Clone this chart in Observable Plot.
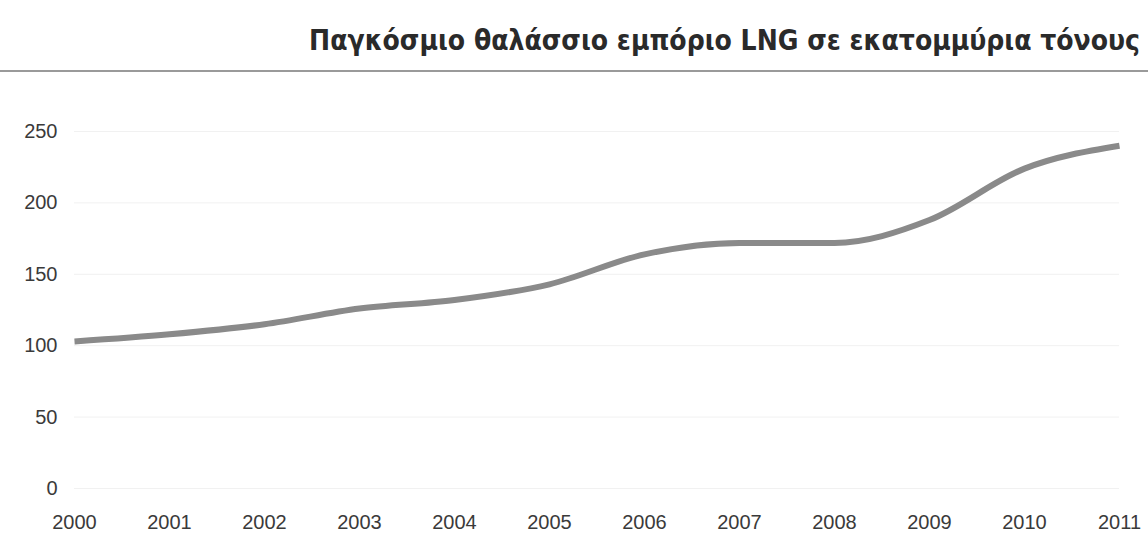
<!DOCTYPE html>
<html>
<head>
<meta charset="utf-8">
<script src="https://cdn.jsdelivr.net/npm/d3@7"></script>
<script src="https://cdn.jsdelivr.net/npm/@observablehq/plot@0.6"></script>
<style>
  html, body { margin: 0; padding: 0; background: #fff; }
  #wrap { width: 1148px; height: 539px; overflow: hidden; }
  #title {
    height: 72px; box-sizing: border-box;
    border-bottom: 2px solid #9a9a9a;
    text-align: right; padding-right: 8px;
    font-family: "DejaVu Sans Condensed", "DejaVu Sans", sans-serif;
    font-stretch: condensed;
    font-weight: bold; font-size: 28px; color: #2a2a2a;
    line-height: 28px; padding-top: 27px;
  }
  svg { display: block; }
</style>
</head>
<body>
<div id="wrap">
  <div id="title">Παγκόσμιο θαλάσσιο εμπόριο LNG σε εκατομμύρια τόνους</div>
  <div id="chart"></div>
</div>
<script>
const years = [2000, 2001, 2002, 2003, 2004, 2005, 2006, 2007, 2008, 2009, 2010, 2011];
const trade = [103, 108, 115, 126, 132, 143, 164, 172, 172, 188, 224, 240];
const yTicks = [0, 50, 100, 150, 200, 250];

const data = years.map((y, i) => ({year: y, value: trade[i]}));

const chart = Plot.plot({
  width: 1148,
  height: 465,
  marginTop: 59,
  marginBottom: 49,
  marginLeft: 74,
  marginRight: 29,
  style: {fontFamily: "'Liberation Sans', Arial, sans-serif", fontSize: "20px", color: "#3a3a3a", background: "transparent"},
  x: {domain: [2000, 2011], ticks: years, tickFormat: d => String(d), tickSize: 0, tickPadding: 26, label: null},
  y: {domain: [0, 250], ticks: yTicks, tickSize: 0, tickPadding: 17, label: null},
  marks: [
    Plot.ruleY(yTicks, {stroke: "#f1f1f1", strokeWidth: 1}),
    Plot.axisX({ticks: years, tickFormat: d => String(d), tickSize: 0, tickPadding: 26, fill: "#3a3a3a", fontSize: 20}),
    Plot.axisY({ticks: yTicks, tickSize: 0, tickPadding: 17, fill: "#3a3a3a", fontSize: 20}),
    Plot.lineY(data, {x: "year", y: "value", stroke: "#8a8a8a", strokeWidth: 6, curve: "monotone-x", strokeLinejoin: "round", strokeLinecap: "butt"})
  ]
});
document.getElementById("chart").appendChild(chart);
</script>
</body>
</html>
